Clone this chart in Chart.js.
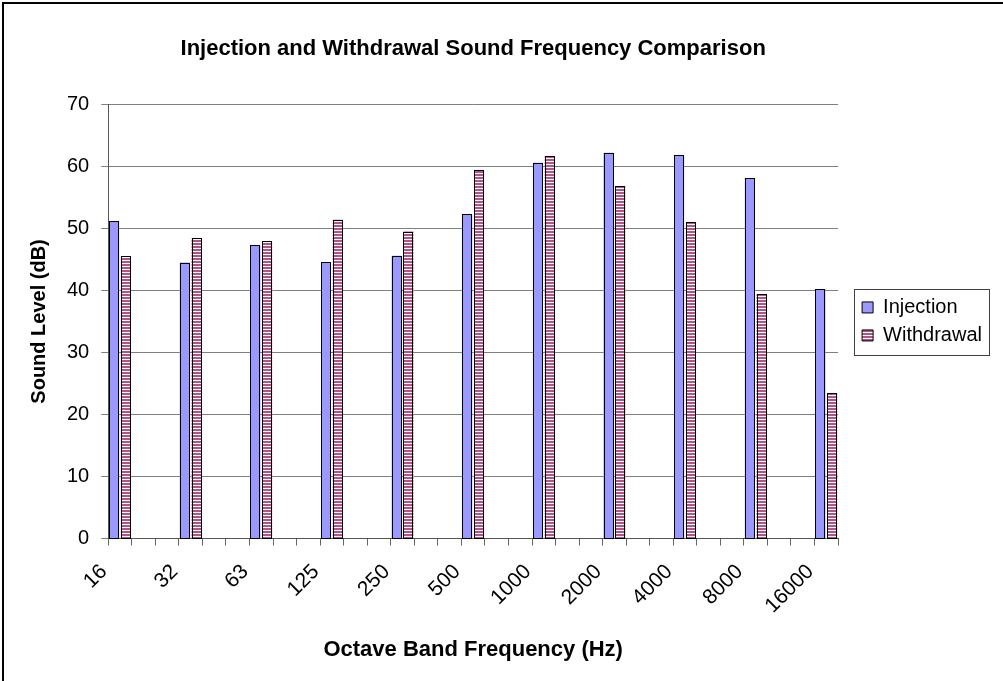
<!DOCTYPE html>
<html>
<head>
<meta charset="utf-8">
<script src="https://cdn.jsdelivr.net/npm/chart.js@4"></script>
<style>
    html, body { margin: 0; padding: 0; background: #fff; }
</style>
</head>
<body>
<canvas id="chart" width="1003" height="681"></canvas>
<script>
// octave band centres (Hz) and measured levels (dB)
const bands = ['16', '32', '63', '125', '250', '500', '1000', '2000', '4000', '8000', '16000'];
const injection = [51.2, 44.5, 47.3, 44.6, 45.6, 52.3, 60.6, 62.2, 61.8, 58.1, 40.2];
const withdrawal = [45.5, 48.4, 47.9, 51.4, 49.5, 59.4, 61.7, 56.9, 51.0, 39.4, 23.4];
const yTicks = [0, 10, 20, 30, 40, 50, 60, 70];

const FONT = "'Liberation Sans', Arial, sans-serif";

// the axis runs in 1/3 octave slots, only the octave slots carry data
const labels = [];
const injData = [];
const wdData = [];
bands.forEach((b, i) => {
    labels.push(b);
    injData.push(injection[i]);
    wdData.push(withdrawal[i]);
    if (i < bands.length - 1) {
        labels.push('', '');
        injData.push(null, null);
        wdData.push(null, null);
    }
});

const canvas = document.getElementById('chart');
const g = canvas.getContext('2d');

// horizontal stripes like the Excel pattern fill
function stripes() {
    const c = document.createElement('canvas');
    c.width = 4;
    c.height = 3;
    const p = c.getContext('2d');
    p.fillStyle = '#ffffff';
    p.fillRect(0, 0, 4, 3);
    p.fillStyle = '#b05585';
    p.fillRect(0, 0, 4, 2);
    return g.createPattern(c, 'repeat');
}

const frame = {
    id: 'frame',
    afterLayout(chart) {
        // legend sits centred on the plot, a bit closer to it
        const lg = chart.legend;
        const shift = 7;
        lg.left -= shift;
        lg.right -= shift;
        lg.top = chart.chartArea.top;
        lg.bottom = chart.chartArea.bottom;
    },
    beforeDraw(chart) {
        const c = chart.ctx;
        c.save();
        c.fillStyle = '#fff';
        c.fillRect(0, 0, chart.width, chart.height);
        c.strokeStyle = '#000';
        c.lineWidth = 2;
        c.strokeRect(3, 3, chart.width + 10, chart.height + 10);
        c.restore();
    },
    afterDatasetsDraw(chart) {
        // crisp black outline on every bar, snapped to whole pixels
        const c = chart.ctx;
        c.save();
        c.strokeStyle = '#000';
        c.lineWidth = 1;
        chart.data.datasets.forEach((ds, di) => {
            const meta = chart.getDatasetMeta(di);
            meta.data.forEach((bar, i) => {
                if (ds.data[i] == null) return;
                const p = bar.getProps(['x', 'y', 'base', 'width'], true);
                const l = Math.round(p.x - p.width / 2);
                const r = Math.round(p.x + p.width / 2);
                const t = Math.round(p.y);
                const b = Math.round(p.base);
                c.strokeRect(l + 0.5, t + 0.5, r - l - 1, b - t);
            });
        });
        c.restore();
    },
    afterDraw(chart) {
        // box round the legend
        const hb = chart.legend.legendHitBoxes;
        if (!hb || !hb.length) return;
        const left = Math.min(...hb.map(h => h.left)) - 8;
        const right = Math.max(...hb.map(h => h.left + h.width)) + 7;
        const top = hb[0].top - 8;
        const last = hb[hb.length - 1];
        const bottom = last.top + last.height + 10;
        const c = chart.ctx;
        c.save();
        c.strokeStyle = '#404040';
        c.lineWidth = 1;
        c.strokeRect(Math.round(left) + 0.5, Math.round(top) + 0.5, Math.round(right - left), Math.round(bottom - top));
        c.restore();
    }
};

new Chart(canvas, {
    type: 'bar',
    data: {
        labels: labels,
        datasets: [{
            label: 'Injection',
            data: injData,
            backgroundColor: '#9999ff',
            borderWidth: 0
        }, {
            label: 'Withdrawal',
            data: wdData,
            backgroundColor: stripes(),
            borderWidth: 0
        }]
    },
    options: {
        responsive: false,
        animation: false,
        devicePixelRatio: 1,
        categoryPercentage: 1.0,
        barPercentage: 0.85,
        layout: { padding: { top: 30, left: 27, right: 4, bottom: 18 } },
        plugins: {
            title: {
                display: true,
                fullSize: false,
                text: 'Injection and Withdrawal Sound Frequency Comparison',
                color: '#000',
                font: { family: FONT, size: 22, weight: 'bold' },
                padding: { top: 6, bottom: 42 }
            },
            legend: {
                position: 'right',
                labels: {
                    color: '#000',
                    font: { family: FONT, size: 20 },
                    boxWidth: 11,
                    boxHeight: 11,
                    padding: 8,
                    generateLabels: (chart) => {
                        const items = Chart.defaults.plugins.legend.labels.generateLabels(chart);
                        items.forEach(it => { it.lineWidth = 1; it.strokeStyle = '#000'; });
                        return items;
                    }
                }
            },
            tooltip: { enabled: false }
        },
        scales: {
            x: {
                grid: { drawOnChartArea: false, drawTicks: true, tickLength: 7, color: '#666', offset: true },
                border: { color: '#555' },
                ticks: {
                    autoSkip: false,
                    minRotation: 45,
                    maxRotation: 45,
                    color: '#000',
                    font: { family: FONT, size: 21 },
                    labelOffset: -16,
                    padding: 14
                },
                title: {
                    display: true,
                    text: 'Octave Band Frequency (Hz)',
                    color: '#000',
                    font: { family: FONT, size: 22, weight: 'bold' },
                    padding: { top: 4, bottom: 0 }
                }
            },
            y: {
                min: 0,
                max: 70,
                afterBuildTicks: (s) => { s.ticks = yTicks.map(v => ({ value: v })); },
                grid: { color: '#7f7f7f', tickLength: 7 },
                border: { color: '#555' },
                ticks: { color: '#000', font: { family: FONT, size: 20 }, padding: 12 },
                title: {
                    display: true,
                    text: 'Sound Level (dB)',
                    color: '#000',
                    font: { family: FONT, size: 20, weight: 'bold' },
                    padding: { top: 0, bottom: 4 }
                }
            },
            gap: {
                type: 'linear',
                position: 'right',
                ticks: { display: false },
                grid: { display: false },
                border: { display: false },
                afterFit: (s) => { s.width = 23; }
            }
        }
    },
    plugins: [frame]
});
</script>
</body>
</html>
